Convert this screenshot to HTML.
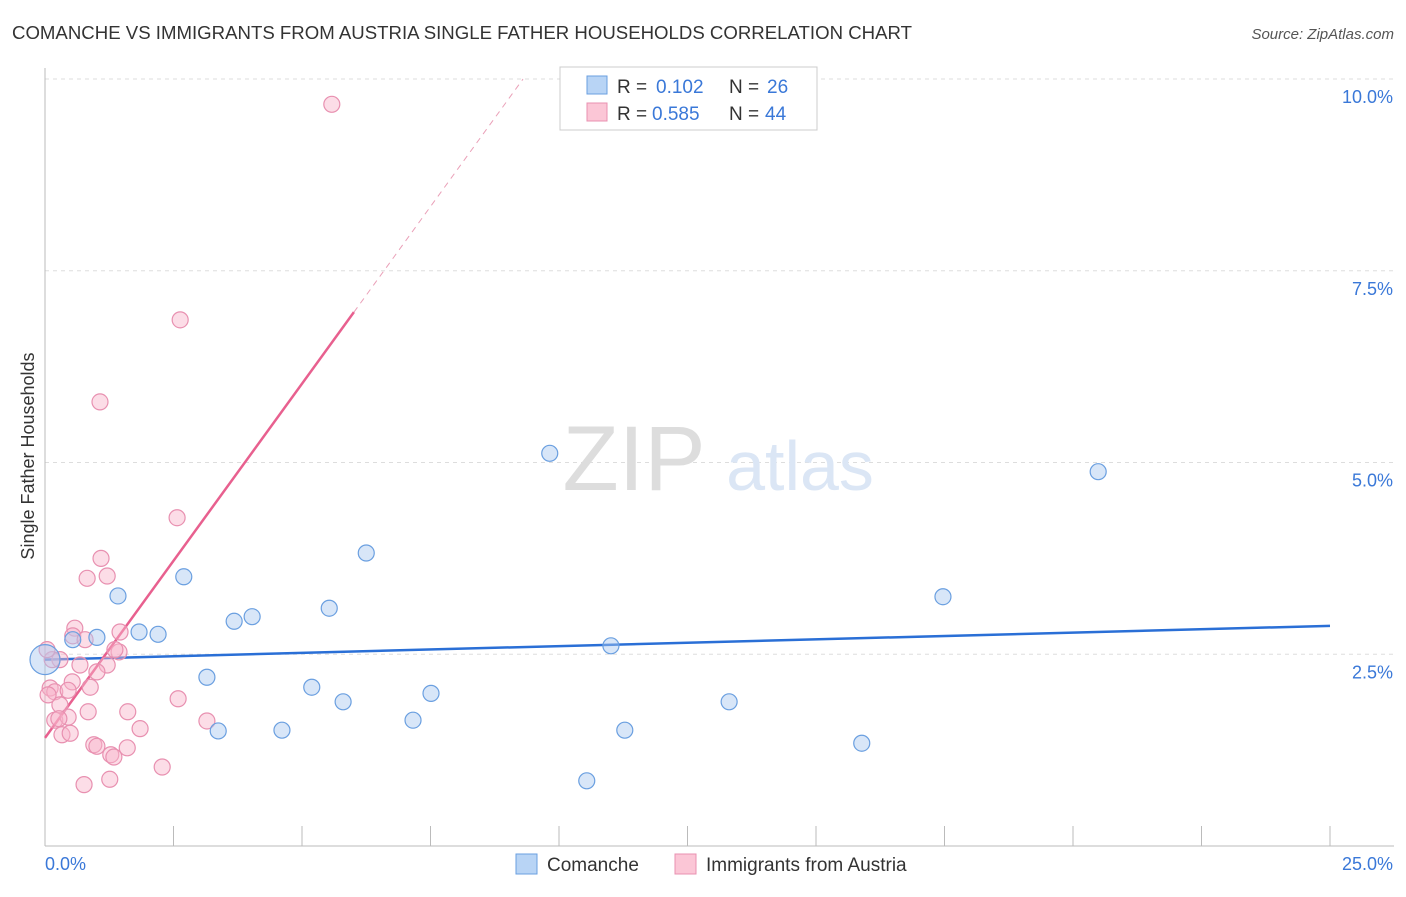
<!DOCTYPE html>
<html><head><meta charset="utf-8"><style>
body{margin:0;background:#fff;font-family:"Liberation Sans",sans-serif;}
svg text{font-family:"Liberation Sans",sans-serif;}
</style></head><body>
<svg id="c" width="1406" height="892" xmlns="http://www.w3.org/2000/svg">
<text x="12" y="39" font-size="18" fill="#333" textLength="900" lengthAdjust="spacingAndGlyphs">COMANCHE VS IMMIGRANTS FROM AUSTRIA SINGLE FATHER HOUSEHOLDS CORRELATION CHART</text>
<text x="1394" y="39" font-size="15" fill="#555" font-style="italic" text-anchor="end">Source: ZipAtlas.com</text>
<g id="grid"></g>
<g>
<text x="634" y="490" font-size="92" fill="#ddd" font-family="Liberation Serif" text-anchor="middle">ZIP</text>
<text x="800" y="490" font-size="70" fill="#dbe6f5" text-anchor="middle">atlas</text>
</g>
<g id="axes"></g>
<g id="lines"></g>
<g id="pts"></g>
<text transform="translate(34,456) rotate(-90)" font-size="18" fill="#333" text-anchor="middle">Single Father Households</text>
<g>
<rect x="560" y="67" width="257" height="63" fill="#fff" stroke="#ccc"/>
<rect x="587" y="76" width="20" height="18" fill="#b8d4f5" stroke="#6a9fe0"/>
<rect x="587" y="103" width="20" height="18" fill="#fbc6d6" stroke="#e890b0"/>
<text x="617" y="93" font-size="19" fill="#333">R =</text>
<text x="656" y="93" font-size="19" fill="#3a78d8">0.102</text>
<text x="729" y="93" font-size="19" fill="#333">N =</text>
<text x="767" y="93" font-size="19" fill="#3a78d8">26</text>
<text x="617" y="120" font-size="19" fill="#333">R =</text>
<text x="652" y="120" font-size="19" fill="#3a78d8">0.585</text>
<text x="729" y="120" font-size="19" fill="#333">N =</text>
<text x="765" y="120" font-size="19" fill="#3a78d8">44</text>
</g>
<g>
<rect x="516" y="854" width="21" height="20" fill="#b8d4f5" stroke="#6a9fe0"/>
<text x="547" y="871" font-size="19" fill="#333">Comanche</text>
<rect x="675" y="854" width="21" height="20" fill="#fbc6d6" stroke="#e890b0"/>
<text x="706" y="871" font-size="19" fill="#333">Immigrants from Austria</text>
</g>
</svg>
<script>
const blueX=[0.00,0.54,1.01,1.42,1.83,2.20,2.70,3.15,3.37,3.68,4.03,4.61,5.19,5.53,5.80,6.25,7.16,7.51,9.82,10.54,11.01,11.28,13.31,15.89,17.47,20.49];
const blueY=[2.43,2.69,2.72,3.26,2.79,2.76,3.51,2.20,1.50,2.93,2.99,1.51,2.07,3.10,1.88,3.82,1.64,1.99,5.12,0.85,2.61,1.51,1.88,1.34,3.25,4.88];
const pinkX=[5.58,2.63,1.07,2.57,1.09,0.82,1.21,0.58,0.54,0.78,1.46,1.44,1.36,0.29,0.68,1.21,1.01,0.53,0.10,0.19,0.45,0.88,2.59,0.29,0.84,1.61,0.19,0.45,1.85,0.33,0.49,0.95,1.01,1.60,1.28,1.34,2.28,1.26,0.76,3.15,0.06,0.14,0.04,0.27];
const pinkY=[9.67,6.86,5.79,4.28,3.75,3.49,3.52,2.84,2.74,2.69,2.79,2.53,2.56,2.43,2.36,2.36,2.27,2.14,2.06,2.01,2.03,2.07,1.92,1.84,1.75,1.75,1.64,1.68,1.53,1.45,1.47,1.32,1.30,1.28,1.19,1.16,1.03,0.87,0.80,1.63,1.97,2.43,2.56,1.66];
const yTicks=[2.5,5.0,7.5,10.0];
const blueTrend=[[0,2.43],[25,2.87]];
const pinkTrend=[[0,1.41],[6.01,6.96]];
const pinkDash=[[6.01,6.96],[9.3,10.0]];
const X=v=>45+v*51.4, Y=v=>846-v*76.7;
const NS='http://www.w3.org/2000/svg';
function mk(tag,a,parent){const e=document.createElementNS(NS,tag);for(const k in a)e.setAttribute(k,a[k]);document.getElementById(parent).appendChild(e);return e;}
yTicks.forEach(t=>{
 const l=mk('line',{x1:45,x2:1394,y1:Y(t),y2:Y(t),stroke:'#ddd','stroke-dasharray':'4,4'},'grid');
 
 
 const tx=mk('text',{x:1393,y:Y(t)+24,'font-size':18,fill:'#3a78d8','text-anchor':'end'},'axes');
 tx.textContent=t.toFixed(1)+'%';
 
 
});
mk('line',{x1:45,x2:45,y1:68,y2:846,stroke:'#bbb'},'axes');
mk('line',{x1:45,x2:1394,y1:846,y2:846,stroke:'#bbb'},'axes');
for(let i=0;i<=10;i++){const t=mk('line',{x1:X(i*2.5),x2:X(i*2.5),y1:826,y2:846,stroke:'#bbb'},'axes');
 
 }
let a=mk('text',{x:45,y:870,'font-size':18,fill:'#3a78d8'},'axes');a.textContent='0.0%';

a=mk('text',{x:1393,y:870,'font-size':18,fill:'#3a78d8','text-anchor':'end'},'axes');a.textContent='25.0%';

function ln(p,st){const l=mk('line',{x1:X(p[0][0]),y1:Y(p[0][1]),x2:X(p[1][0]),y2:Y(p[1][1]),...st},'lines');return l;}
let l1=ln(blueTrend,{stroke:'#2a6fd6','stroke-width':2.5});

let l2=ln(pinkTrend,{stroke:'#e8608f','stroke-width':2.5});

let l3=ln(pinkDash,{stroke:'#eaa0b8','stroke-width':1,'stroke-dasharray':'6,5'});

pinkX.forEach((x,i)=>{const c=mk('circle',{cx:X(x),cy:Y(pinkY[i]),r:8,fill:'rgba(248,180,202,0.45)',stroke:'#e890b0','stroke-width':1.2},'pts');
 
 });
blueX.forEach((x,i)=>{const c=mk('circle',{cx:X(x),cy:Y(blueY[i]),r:i==0?15:8,fill:'rgba(168,200,240,0.45)',stroke:'#6a9fe0','stroke-width':1.2},'pts');
 
 });
</script>
</body></html>
